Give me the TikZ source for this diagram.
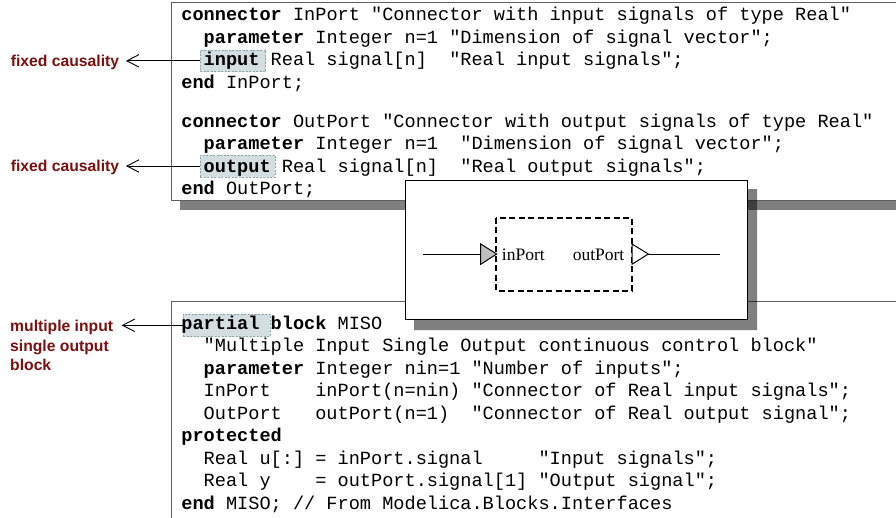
\documentclass[tikz,border=0pt]{standalone}
\usepackage{fontspec}
\setmonofont{Liberation Mono}
\newfontfamily\lsans{Liberation Sans}
\newfontfamily\lserif{Liberation Serif}
\usetikzlibrary{arrows.meta,patterns}
\definecolor{labelred}{RGB}{122,16,16}
\definecolor{hlfill}{RGB}{214,224,226}
\definecolor{hldraw}{RGB}{140,165,170}
\definecolor{boxgray}{RGB}{95,95,95}
\definecolor{trigray}{RGB}{192,192,192}
\frenchspacing
\begin{document}
\begin{tikzpicture}[x=1pt,y=-1pt,
  codeline/.style={anchor=base west, inner sep=0pt, font=\ttfamily\fontsize{18.6}{22}\selectfont},
  hl/.style={rectangle, draw=hldraw, fill=hlfill, dash pattern=on 2pt off 1.5pt, line width=0.8pt, inner sep=0pt,
    postaction={pattern=dots, pattern color=hldraw!60}},
  note/.style={inner sep=0pt, text=labelred, font=\lsans\bfseries\fontsize{15.7}{19.5}\selectfont},
  arr/.style={-{Straight Barb[length=12pt,width=12.5pt]}, line width=0.9pt},
  codebox/.style={draw=boxgray, line width=1pt, fill=white},
  shadowfill/.style={fill=black, fill opacity=0.5},
  blocktext/.style={inner sep=0pt, font=\lserif\fontsize{17.5}{20}\selectfont},
  blockline/.style={line width=1pt},
]
\useasboundingbox (0,0) rectangle (896,517);
\fill[white] (0,0) rectangle (896,517);

% code boxes
\draw[codebox] (171,2.7) rectangle (910,200);
\draw[codebox] (171,301) rectangle (910,530);
\fill[shadowfill] (180,200.5) rectangle (910,210);

% highlights
\node[hl, minimum width=65.7pt, minimum height=21.7pt] (hlIn) at (232.85,60.85) {};
\node[hl, minimum width=75.3pt, minimum height=22pt] (hlOut) at (237.65,166) {};
\node[hl, minimum width=86.7pt, minimum height=22.7pt] (hlPart) at (226.65,325.35) {};

% top code
\node[codeline] (t1) at (181.2,20.7) {\textbf{connector}~InPort~"Connector~with~input~signals~of~type~Real"};
\node[codeline] (t2) at (181.2,43.2) {~~\textbf{parameter}~Integer~n=1~"Dimension~of~signal~vector";};
\node[codeline] (t3) at (181.2,65.7) {~~\textbf{input}~Real~signal[n]~~"Real~input~signals";};
\node[codeline] (t4) at (181.2,88.2) {\textbf{end}~InPort;};
\node[codeline] (t5) at (181.2,127.3) {\textbf{connector}~OutPort~"Connector~with~output~signals~of~type~Real"};
\node[codeline] (t6) at (181.2,149.8) {~~\textbf{parameter}~Integer~n=1~~"Dimension~of~signal~vector";};
\node[codeline] (t7) at (181.2,172.3) {~~\textbf{output}~Real~signal[n]~~"Real~output~signals";};
\node[codeline] (t8) at (181.2,194.8) {\textbf{end}~OutPort;};

% bottom code
\node[codeline] (b1) at (181.2,329.3) {\textbf{partial}~\textbf{block}~MISO};
\node[codeline] (b2) at (181.2,351.8) {~~"Multiple~Input~Single~Output~continuous~control~block"};
\node[codeline] (b3) at (181.2,374.3) {~~\textbf{parameter}~Integer~nin=1~"Number~of~inputs";};
\node[codeline] (b4) at (181.2,396.8) {~~InPort~~~~inPort(n=nin)~"Connector~of~Real~input~signals";};
\node[codeline] (b5) at (181.2,419.3) {~~OutPort~~~outPort(n=1)~~"Connector~of~Real~output~signal";};
\node[codeline] (b6) at (181.2,441.8) {\textbf{protected}};
\node[codeline] (b7) at (181.2,464.3) {~~Real~u[:]~=~inPort.signal~~~~~"Input~signals";};
\node[codeline] (b8) at (181.2,486.8) {~~Real~y~~~~=~outPort.signal[1]~"Output~signal";};
\node[codeline] (b9) at (181.2,509.3) {\textbf{end}~MISO;~//~From~Modelica.Blocks.Interfaces};

% middle block diagram
\draw[line width=1pt, fill=white] (405.5,180.5) rectangle (747.3,319.7);
\fill[shadowfill] (747.8,189) -- (757,189) -- (757,330) -- (414,330) -- (414,320.2) -- (747.8,320.2) -- cycle;
\draw[line width=2pt, dash pattern=on 6pt off 3.5pt] (495.7,217.7) rectangle (632,290.7);
\coordinate (inA) at (423,254);
\coordinate (inB) at (480.7,254);
\coordinate (outA) at (648.3,254);
\coordinate (outB) at (720,254);
\draw[blockline] (inA) -- (inB);
\draw[blockline] (outA) -- (outB);
\draw[blockline, fill=trigray] (480.7,244) -- (496.7,254) -- (480.7,264.3) -- cycle;
\draw[blockline, fill=white] (632,244) -- (648.3,254) -- (632,264.3) -- cycle;
\node[blocktext, anchor=base west] (inP) at (501.7,260) {inPort};
\node[blocktext, anchor=base east] (outP) at (624.5,260) {outPort};

% labels and arrows
\node[note, anchor=base east] (fc1) at (119.3,66) {fixed causality};
\node[note, anchor=base east] (fc2) at (119.3,171.3) {fixed causality};
\node[note, anchor=north west, align=left] (mib) at (10,320.4) {multiple input\\single output\\block};
\draw[arr, shorten >=6.7pt] (hlIn.west) -- (hlIn.west -| fc1.east);
\draw[arr, shorten >=6.7pt] (hlOut.west) -- (hlOut.west -| fc2.east);
\draw[arr, shorten >=8.4pt] (hlPart.west) -- (hlPart.west -| mib.east);
\end{tikzpicture}
\end{document}
